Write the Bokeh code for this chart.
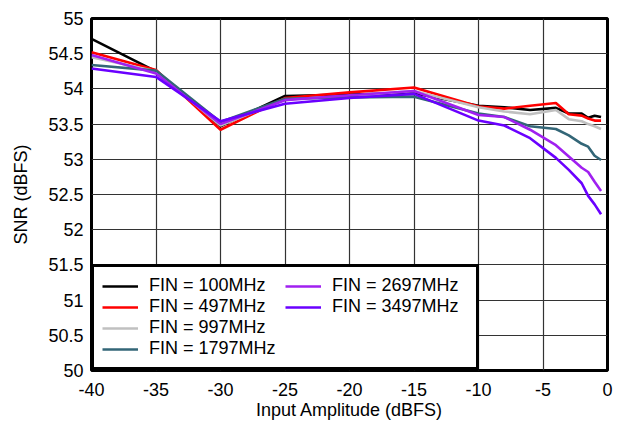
from bokeh.plotting import figure
from bokeh.models import Range1d, FixedTicker, Legend, LegendItem
from bokeh.embed import file_html
from bokeh.resources import INLINE

# Input amplitude (dBFS)
amplitude = [-40, -35, -30, -25, -20, -15, -10, -8, -6, -4, -3, -2, -1.5, -1, -0.5]

snr_100 = [54.71, 54.25, 53.47, 53.90, 53.92, 53.94, 53.76, 53.74, 53.70, 53.73, 53.65, 53.65, 53.59, 53.62, 53.60]
snr_497 = [54.52, 54.27, 53.42, 53.87, 53.95, 54.02, 53.75, 53.72, 53.76, 53.80, 53.64, 53.62, 53.58, 53.55, 53.55]
snr_997 = [54.45, 54.25, 53.48, 53.85, 53.90, 53.97, 53.74, 53.68, 53.64, 53.70, 53.57, 53.54, 53.50, 53.47, 53.43]
snr_1797 = [54.34, 54.26, 53.53, 53.86, 53.88, 53.89, 53.65, 53.60, 53.47, 53.43, 53.34, 53.22, 53.18, 53.05, 52.99]
snr_2697 = [54.48, 54.22, 53.50, 53.84, 53.91, 53.97, 53.63, 53.60, 53.42, 53.20, 53.04, 52.88, 52.82, 52.68, 52.55]
snr_3497 = [54.29, 54.17, 53.54, 53.79, 53.87, 53.93, 53.55, 53.48, 53.30, 53.02, 52.85, 52.66, 52.48, 52.36, 52.22]

series_labels = ["FIN = 100MHz", "FIN = 497MHz", "FIN = 997MHz",
                 "FIN = 1797MHz", "FIN = 2697MHz", "FIN = 3497MHz"]
series_values = [snr_100, snr_497, snr_997, snr_1797, snr_2697, snr_3497]
series_colors = ["#000000", "#ff0000", "#c0c0c0", "#336677", "#a020f0", "#6a00ff"]

x_ticks = [-40, -35, -30, -25, -20, -15, -10, -5, 0]
x_tick_labels = ["-40", "-35", "-30", "-25", "-20", "-15", "-10", "-5", "0"]
y_ticks = [50, 50.5, 51, 51.5, 52, 52.5, 53, 53.5, 54, 54.5, 55]
y_tick_labels = ["50", "50.5", "51", "51.5", "52", "52.5", "53", "53.5", "54", "54.5", "55"]

FONT = "Liberation Sans"

p = figure(width=627, height=424, output_backend="svg", toolbar_location=None,
           x_range=Range1d(-40, 0), y_range=Range1d(50, 55),
           min_border_left=91, min_border_right=20, min_border_top=18, min_border_bottom=54)

p.xaxis.ticker = FixedTicker(ticks=x_ticks)
p.yaxis.ticker = FixedTicker(ticks=y_ticks)
p.xaxis.major_label_overrides = {t: s for t, s in zip(x_ticks, x_tick_labels)}
p.yaxis.major_label_overrides = {t: s for t, s in zip(y_ticks, y_tick_labels)}
p.xaxis.axis_label = "Input Amplitude (dBFS)"
p.yaxis.axis_label = "SNR (dBFS)"
for ax in (p.xaxis, p.yaxis):
    ax.axis_line_color = None
    ax.major_tick_line_color = None
    ax.minor_tick_line_color = None
    ax.major_tick_out = 0
    ax.major_tick_in = 0
    ax.major_label_text_font = FONT
    ax.major_label_text_font_size = "18px"
    ax.major_label_text_color = "#000000"
    ax.axis_label_text_font = FONT
    ax.axis_label_text_font_size = "18px"
    ax.axis_label_text_font_style = "normal"
    ax.axis_label_text_color = "#000000"
p.yaxis.major_label_standoff = 8
p.xaxis.major_label_standoff = 12
p.yaxis.axis_label_standoff = 14
p.xaxis.axis_label_standoff = 1

p.xgrid.grid_line_color = "#333333"
p.ygrid.grid_line_color = "#333333"
p.xgrid.grid_line_width = 1.2
p.ygrid.grid_line_width = 1.2

p.outline_line_color = "#000000"
p.outline_line_alpha = 1.0
p.outline_line_width = 3
p.background_fill_color = "white"
p.border_fill_color = "white"

items = []
for lab, vals, col in zip(series_labels, series_values, series_colors):
    r = p.line(amplitude, vals, line_color=col, line_width=2.6)
    items.append(LegendItem(label=lab, renderers=[r]))

legend = Legend(items=items, location="bottom_left", orientation="vertical", nrows=4,
                margin=0, padding=8, spacing=0, label_standoff=11,
                glyph_width=36, glyph_height=20, label_height=20, label_width=136,
                label_text_font=FONT, label_text_font_size="18px", label_text_color="#000000",
                border_line_color="#000000", border_line_width=3, border_line_alpha=1.0,
                background_fill_color="white", background_fill_alpha=1.0)
p.add_layout(legend)

open("out.html", "w").write(file_html(p, INLINE))
